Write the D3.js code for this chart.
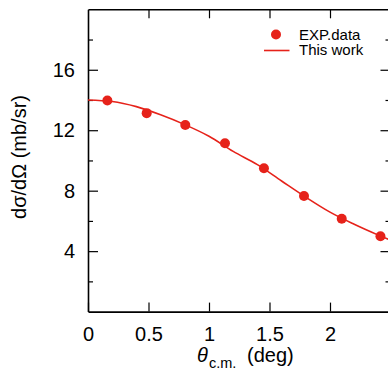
<!DOCTYPE html>
<html>
<head>
<meta charset="utf-8">
<script src="https://cdn.jsdelivr.net/npm/d3@7"></script>
<style>
  body { margin: 0; background: #fff; }
  svg { display: block; font-family: "Liberation Sans", Arial, Helvetica, sans-serif; }
</style>
</head>
<body>
<div id="chart"></div>
<script>
// experimental points
var expAngle = [0.16, 0.485, 0.804, 1.132, 1.454, 1.785, 2.097, 2.417];
var expXsec  = [13.97, 13.13, 12.34, 11.14, 9.48, 7.65, 6.14, 4.99];

// calculation ("This work")
var calcAngle = [0, 0.2, 0.4, 0.6, 0.8, 1.0, 1.2, 1.4, 1.6, 1.8, 2.0, 2.2, 2.4, 2.5];
var calcXsec  = [14.0, 13.9, 13.56, 13.02, 12.37, 11.6, 10.6, 9.72, 8.64, 7.57, 6.58, 5.78, 5.06, 4.72];

var xTicks = [0, 0.5, 1, 1.5, 2];
var yTicks = [4, 8, 12, 16];
var yMinor = [2, 6, 10, 14, 18];

var legendLabels = ["EXP.data", "This work"];

var red = "#e6221a";
var W = 388, H = 370;
var m = {left: 88, top: 9.3, right: 390.5, bottom: 311.6};

var svg = d3.select("#chart").append("svg").attr("width", W).attr("height", H);

var x = d3.scaleLinear().domain([0, 2.5]).range([m.left, m.right]);
var y = d3.scaleLinear().domain([0, 20]).range([m.bottom, m.top]);

function styleAxis(g) {
    g.select(".domain").attr("stroke", "#000").attr("stroke-width", 1.6);
    g.selectAll(".tick line").attr("stroke", "#000").attr("stroke-width", 1.2);
    g.selectAll("text").attr("font-size", 20).attr("fill", "#000")
        .attr("font-family", "Liberation Sans, Arial, sans-serif");
}

// bottom axis
svg.append("g").attr("transform", "translate(0," + m.bottom + ")")
    .call(d3.axisBottom(x).tickValues(xTicks).tickSizeInner(-9).tickSizeOuter(0).tickPadding(14)
        .tickFormat(d3.format("")))
    .call(styleAxis)
    .call(g => g.selectAll("text").attr("dy", "0.71em").attr("y", 15));

// top axis
svg.append("g").attr("transform", "translate(0," + m.top + ")")
    .call(d3.axisTop(x).tickValues(xTicks.filter(d => d > 0)).tickSizeInner(-9).tickSizeOuter(0).tickFormat(""))
    .call(styleAxis);

// left axis
svg.append("g").attr("transform", "translate(" + m.left + ",0)")
    .call(d3.axisLeft(y).tickValues(yTicks).tickSizeInner(-10).tickSizeOuter(0).tickPadding(13))
    .call(styleAxis);
svg.append("g").attr("transform", "translate(" + m.left + ",0)")
    .call(d3.axisLeft(y).tickValues(yMinor).tickSizeInner(-5).tickSizeOuter(0).tickFormat(""))
    .call(styleAxis).call(g => g.select(".domain").remove());

// right axis
svg.append("g").attr("transform", "translate(" + m.right + ",0)")
    .call(d3.axisRight(y).tickValues(yTicks).tickSizeInner(-10).tickSizeOuter(0).tickFormat(""))
    .call(styleAxis);
svg.append("g").attr("transform", "translate(" + m.right + ",0)")
    .call(d3.axisRight(y).tickValues(yMinor).tickSizeInner(-5).tickSizeOuter(0).tickFormat(""))
    .call(styleAxis).call(g => g.select(".domain").remove());

// calculated curve
var calc = calcAngle.map((a, i) => [a, calcXsec[i]]);
svg.append("path").datum(calc)
    .attr("fill", "none").attr("stroke", red).attr("stroke-width", 1.6)
    .attr("d", d3.line().x(d => x(d[0])).y(d => y(d[1])).curve(d3.curveMonotoneX));

// data points
svg.selectAll("circle.exp").data(expAngle).enter().append("circle")
    .attr("class", "exp")
    .attr("cx", d => x(d))
    .attr("cy", (d, i) => y(expXsec[i]))
    .attr("r", 5)
    .attr("fill", red);

// legend
var leg = svg.append("g");
leg.append("circle").attr("cx", 276).attr("cy", 34.5).attr("r", 5).attr("fill", red);
leg.append("line").attr("x1", 264).attr("x2", 289.5).attr("y1", 50.5).attr("y2", 50.5)
    .attr("stroke", red).attr("stroke-width", 1.6);
leg.selectAll("text").data(legendLabels).enter().append("text")
    .attr("x", 299)
    .attr("y", (d, i) => 39.5 + i * 15.8)
    .attr("font-size", 15)
    .text(d => d);

// axis titles
svg.append("text")
    .attr("transform", "translate(26," + 157 + ") rotate(-90)")
    .attr("text-anchor", "middle")
    .attr("font-size", 20)
    .text("dσ/dΩ (mb/sr)");

var xt = svg.append("text").attr("y", 361.5).attr("font-size", 20);
xt.append("tspan").attr("x", 197).attr("font-style", "italic").text("θ");
xt.append("tspan").attr("x", 209).attr("dy", 6).attr("font-size", 14.5).text("c.m.");
xt.append("tspan").attr("x", 247).attr("dy", -6).text("(deg)");
</script>
</body>
</html>
